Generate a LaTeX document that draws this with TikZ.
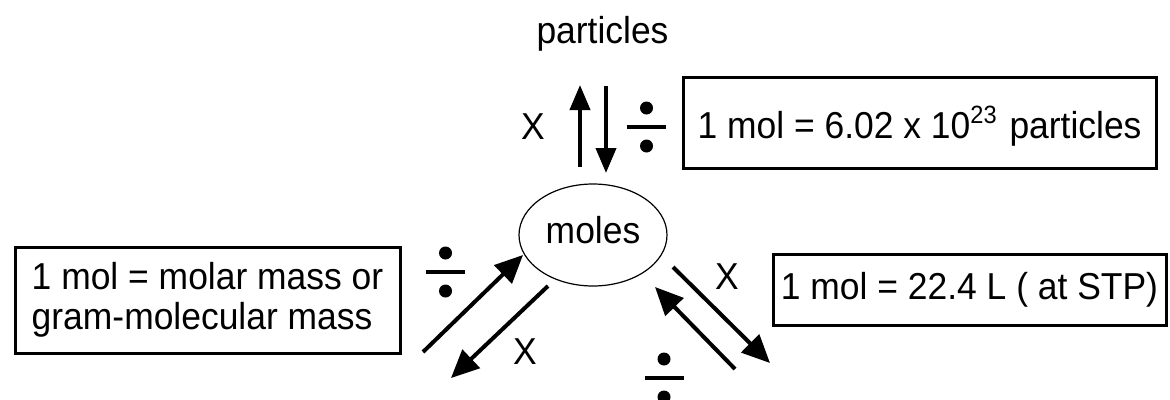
\documentclass[tikz,border=0pt]{standalone}
\usepackage{fontspec}
\setmainfont{Liberation Sans}[FakeStretch=0.945]
\usetikzlibrary{arrows.meta,shapes.geometric}
\begin{document}
\begin{tikzpicture}[x=1pt,y=-1pt,
  txt/.style={font=\fontsize{37.5}{40}\selectfont, inner sep=0pt},
  box/.style={draw, line width=3pt, inner sep=0pt, txt},
  arr/.style={line width=4pt, -{Triangle[length=25pt,width=20pt]}},
  darr/.style={line width=4pt, -{Triangle[length=28pt,width=25pt]}},
  divbar/.style={line width=4pt},
  divdot/.style={fill=black}
]
\path[fill=white,use as bounding box] (0,0) rectangle (1170,399);

% title
\node[txt, anchor=base] (part) at (602.5,43) {particles};

% moles ellipse
\node[ellipse, draw, line width=1.2pt, minimum width=148pt, minimum height=102pt,
      inner sep=0pt, txt, text depth=10pt] (moles) at (593,235) {moles};

% boxes
\node[box, minimum width=473pt, minimum height=91pt, text height=39pt, text depth=8pt]
  (bpart) at (919.5,122.5)
  {1 mol = 6.02 x 10\raisebox{15pt}{\fontsize{25}{25}\selectfont 23}\hspace{3pt} particles};
\node[box, minimum width=385pt, minimum height=106pt, align=left]
  (bmass) at (207.5,300) {1 mol = molar mass or\\gram-molecular mass};
\node[box, minimum width=393pt, minimum height=71pt]
  (bgas) at (969.5,289.5) {1 mol = 22.4 L ( at STP)};

% X labels
\node[txt] (xtop) at (533,127) {X};
\node[txt] (xleft) at (525,352) {X};
\node[txt] (xright) at (727,277) {X};

% arrow end points
\coordinate (t1s) at (580,167); \coordinate (t1e) at (580,85);
\coordinate (t2s) at (606,86);  \coordinate (t2e) at (606,173);
\coordinate (l1s) at (423,352); \coordinate (l1e) at (523,255);
\coordinate (l2s) at (548,286); \coordinate (l2e) at (451,378);
\coordinate (r1s) at (673,267); \coordinate (r1e) at (770,363);
\coordinate (r2s) at (735,369); \coordinate (r2e) at (655,287);

\draw[arr] (t1s) -- (t1e);
\draw[arr] (t2s) -- (t2e);
\draw[darr] (l1s) -- (l1e);
\draw[darr] (l2s) -- (l2e);
\draw[darr] (r1s) -- (r1e);
\draw[darr] (r2s) -- (r2e);

% division signs
\coordinate (dtop) at (646.5,127);
\coordinate (dleft) at (445.5,272);
\coordinate (dbot) at (664,378);
\foreach \c in {dtop,dleft,dbot}{
  \draw[divbar] ([xshift=-19.5pt]\c) -- ([xshift=19.5pt]\c);
  \fill[divdot] ([yshift=19pt]\c) circle (6.5pt);
  \fill[divdot] ([yshift=-19pt]\c) circle (6.5pt);
}
\end{tikzpicture}
\end{document}
